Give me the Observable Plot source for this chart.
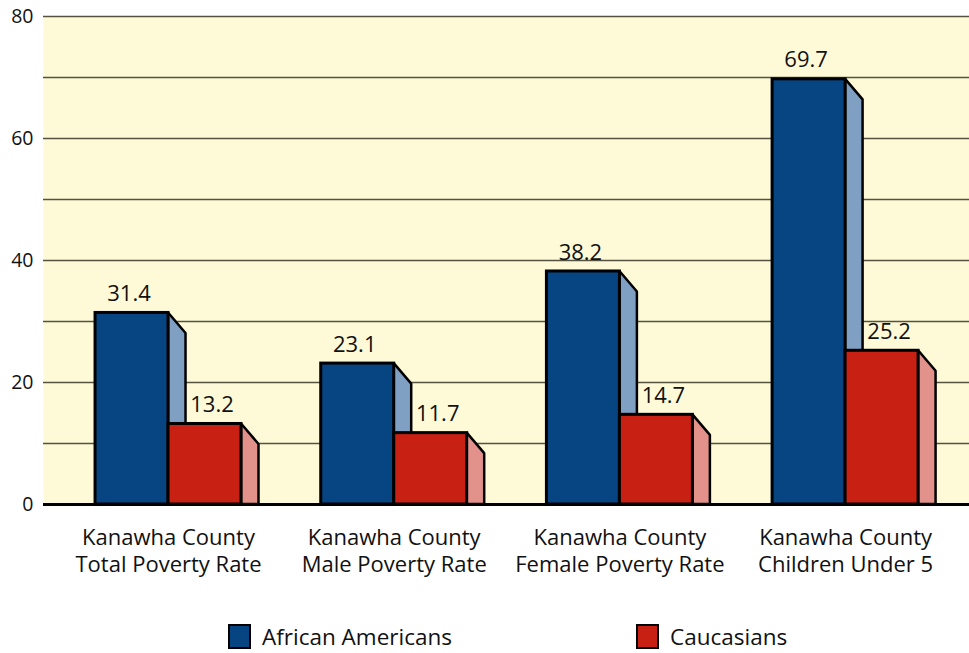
<!DOCTYPE html>
<html>
<head>
<meta charset="utf-8">
<script src="https://cdn.jsdelivr.net/npm/d3@7"></script>
<script src="https://cdn.jsdelivr.net/npm/@observablehq/plot@0.6"></script>
<style>
  body { margin: 0; background: #fff; font-family: "Open Sans", sans-serif; }
  #wrap { position: relative; width: 969px; height: 653px; }
  #legend { position: absolute; left: 0; top: 600px; width: 969px; height: 53px; }
  .sw { position: absolute; width: 19px; height: 21px; border: 2px solid #000; }
  .lb { position: absolute; font-size: 22.5px; color: #111; line-height: 26px; }
</style>
</head>
<body>
<div id="wrap">
  <div id="chart"></div>
  <div id="legend">
    <div class="sw" style="left:228px; top:24px; background:#064482;"></div>
    <div class="lb" style="left:262px; top:24px;">African Americans</div>
    <div class="sw" style="left:636px; top:24px; background:#c82114;"></div>
    <div class="lb" style="left:670px; top:24px;">Caucasians</div>
  </div>
</div>
<script>
const groups = [
  "Kanawha County\nTotal Poverty Rate",
  "Kanawha County\nMale Poverty Rate",
  "Kanawha County\nFemale Poverty Rate",
  "Kanawha County\nChildren Under 5"
];
const african = [31.4, 23.1, 38.2, 69.7];
const caucasian = [13.2, 11.7, 14.7, 25.2];
const yTicks = [0, 20, 40, 60, 80];
const gridValues = [10, 20, 30, 40, 50, 60, 70, 80];

const seriesList = [
  {key: "African Americans", values: african, front: "#064482", side: "#7f9fc3", dx: -3},
  {key: "Caucasians", values: caucasian, front: "#c82114", side: "#e3928b", dx: 7}
];

// geometry in scale units
const W = 0.3234;   // bar width
const S = 0.0775;   // side depth (x)
const D = 3.36;     // side drop (y)

const fronts = [];
const sides = [];
groups.forEach((g, i) => {
  seriesList.forEach((s, k) => {
    const v = s.values[i];
    const x1 = i - W + k * W, x2 = i + k * W;
    fronts.push({x1, x2, v, k, fill: s.front, label: v.toFixed(1)});
    const id = g + s.key;
    sides.push({id, x: x2, y: v, fill: s.side, k});
    sides.push({id, x: x2 + S, y: v - D, fill: s.side, k});
  });
});
const cats = groups.map((g, i) => ({x: i, label: g}));

const chart = Plot.plot({
  width: 969,
  height: 600,
  marginLeft: 43,
  marginRight: 0,
  marginTop: 16,
  marginBottom: 96,
  style: {fontFamily: "'Open Sans', sans-serif", fontSize: "19.5px", color: "#111", background: "transparent"},
  x: {domain: [-0.554, 3.549], axis: null},
  y: {domain: [0, 80], ticks: yTicks, tickSize: 0, tickPadding: 10, label: null},
  marks: [
    Plot.frame({fill: "#fefad8", stroke: "none"}),
    Plot.ruleY(gridValues, {stroke: "#55533f", strokeWidth: 1.3, strokeOpacity: 1}),
    Plot.areaY(sides.filter(d => d.k === 0), {x: "x", y1: 0, y2: "y", z: "id", fill: d => d.fill, stroke: "#000", strokeWidth: 2.5, strokeLinejoin: "miter"}),
    Plot.areaY(sides.filter(d => d.k === 1), {x: "x", y1: 0, y2: "y", z: "id", fill: d => d.fill, stroke: "#000", strokeWidth: 2.5, strokeLinejoin: "miter"}),
    Plot.rect(fronts, {x1: "x1", x2: "x2", y1: 0, y2: "v", fill: d => d.fill, stroke: "#000", strokeWidth: 3}),
    Plot.ruleY([0], {stroke: "#000", strokeWidth: 3}),
    Plot.text(fronts.filter(d => d.k === 0), {x: d => (d.x1 + d.x2) / 2, y: "v", text: "label", dy: -19, dx: seriesList[0].dx, fontSize: 22, fill: "#111"}),
    Plot.text(fronts.filter(d => d.k === 1), {x: d => (d.x1 + d.x2) / 2, y: "v", text: "label", dy: -19, dx: seriesList[1].dx, fontSize: 22, fill: "#111"}),
    Plot.text(cats, {x: "x", y: 0, text: "label", dy: 45, fontSize: 22, lineHeight: 1.23, fill: "#111"})
  ]
});
document.getElementById("chart").appendChild(chart);
</script>
</body>
</html>
